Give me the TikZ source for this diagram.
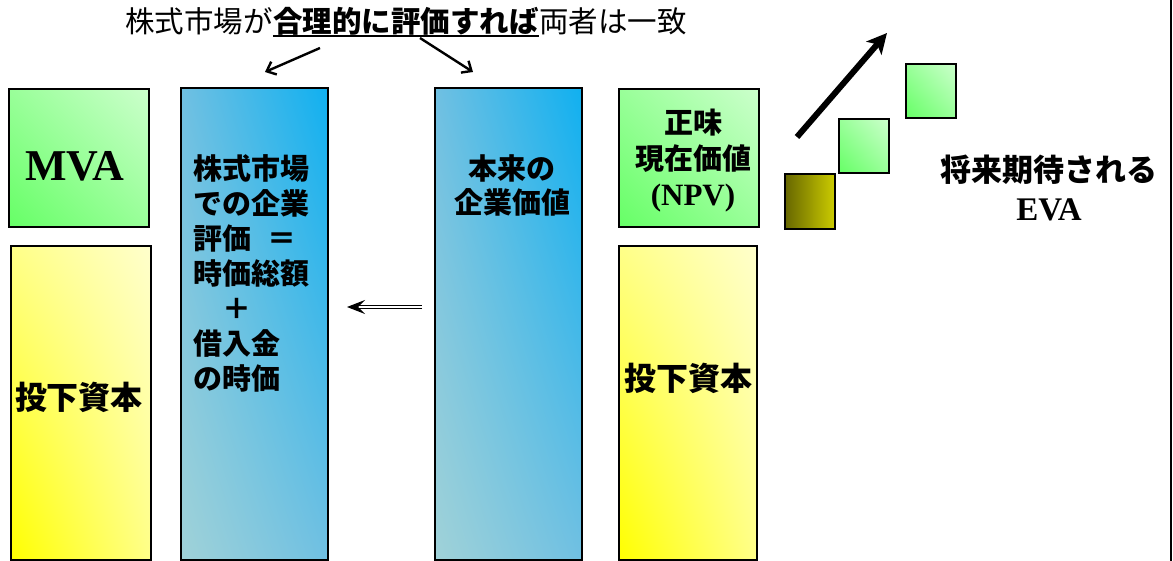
\documentclass[tikz,border=0pt]{standalone}
\usepackage{fontspec}
\newfontfamily\jp{Noto Sans CJK JP}
\newfontfamily\tnr{Liberation Serif}
\usetikzlibrary{arrows.meta,shadings}
\definecolor{gdark}{HTML}{66FF66}
\definecolor{glight}{HTML}{CCFFCC}
\definecolor{gmid}{HTML}{99FF99}
\definecolor{ydark}{HTML}{FFFF00}
\definecolor{ylight}{HTML}{FFFFCC}
\definecolor{ymid}{HTML}{FFFF88}
\definecolor{bll}{HTML}{A0D2D8}
\definecolor{bur}{HTML}{10B0F0}
\definecolor{bmid}{HTML}{70C0E2}
\definecolor{olive1}{HTML}{666600}
\definecolor{olive2}{HTML}{CCCC00}
\tikzset{
  frame/.style={draw=black, line width=1.6pt, inner sep=0pt, anchor=north west},
  gbox/.style={frame, lower left=gdark, upper right=glight, upper left=gmid, lower right=gmid},
  ybox/.style={frame, lower left=ydark, upper right=ylight, upper left=ymid, lower right=ymid},
  bbox/.style={frame, lower left=bll, upper right=bur, upper left=bmid, lower right=bmid},
  obox/.style={frame, left color=olive1, right color=olive2},
  jtxt/.style={inner sep=0pt, font=\jp\bfseries\fontsize{29}{35}\selectfont},
  thin arrow/.style={line width=2.4pt, -{Straight Barb[length=8pt,width=14pt,line width=2.4pt]}},
}
\begin{document}
\begin{tikzpicture}[x=1pt,y=-1pt]
\useasboundingbox (0,0) rectangle (1173,561);

% boxes
\node[gbox, minimum width=140pt, minimum height=138pt] (mva) at (8,88) {};
\node[ybox, minimum width=140pt, minimum height=314pt] (ic1) at (10,245) {};
\node[bbox, minimum width=147pt, minimum height=472pt] (mkt) at (180,87) {};
\node[bbox, minimum width=147pt, minimum height=472pt] (intr) at (434,87) {};
\node[gbox, minimum width=140pt, minimum height=138pt] (npv) at (618,88) {};
\node[ybox, minimum width=138pt, minimum height=314pt] (ic2) at (618,245) {};

% small squares
\node[obox, minimum width=50pt, minimum height=55pt] (sq1) at (784,173) {};
\node[gbox, minimum width=50pt, minimum height=54pt] (sq2) at (838,118) {};
\node[gbox, minimum width=50pt, minimum height=54pt] (sq3) at (905,63) {};

% texts
\node[inner sep=0pt, font=\tnr\bfseries\fontsize{44}{48}\selectfont] (mvat) at (75,166) {MVA};
\node[jtxt, font=\jp\bfseries\fontsize{32}{36}\selectfont] (ic1t) at (79,397) {投下資本};
\node[jtxt, font=\jp\bfseries\fontsize{32}{36}\selectfont] (ic2t) at (688,378) {投下資本};
\node[jtxt, align=left, anchor=north west] (mktt) at (193,154)
  {株式市場\\での企業\\評価\hspace{16pt}＝\\時価総額\\　＋\\借入金\\の時価};
\node[jtxt, align=center, anchor=north, font=\jp\bfseries\fontsize{29}{34}\selectfont] (intrt) at (512,154)
  {本来の\\企業価値};
\node[jtxt, align=center, anchor=north, font=\jp\bfseries\fontsize{29}{36}\selectfont] (npvt) at (693,109)
  {正味\\現在価値\\{\tnr\bfseries\fontsize{31}{36}\selectfont (NPV)}};
\node[jtxt, font=\jp\bfseries\fontsize{31}{36}\selectfont] (evat1) at (1049,170) {将来期待される};
\node[inner sep=0pt, font=\tnr\bfseries\fontsize{33}{36}\selectfont] (evat2) at (1049,210) {EVA};

% top title
\node[anchor=base west, inner sep=0pt, font=\jp\fontsize{29.5}{35}\selectfont] (t1) at (125,33) {株式市場が};
\node[anchor=base west, inner sep=0pt, font=\jp\bfseries\fontsize{29.5}{35}\selectfont] (t2) at (t1.base east) {合理的に評価すれば};
\node[anchor=base west, inner sep=0pt, font=\jp\fontsize{29.5}{35}\selectfont] (t3) at (t2.base east) {両者は一致};
\draw[line width=2pt] ([yshift=-3pt]t2.base west) -- ([yshift=-3pt]t2.base east);

% arrows from title
\coordinate (la) at (320,48);
\coordinate (lb) at (265,72);
\coordinate (ra) at (420,38);
\coordinate (rb) at (473,72);
\draw[thin arrow] (la) -- (lb);
\draw[thin arrow] (ra) -- (rb);

% double arrow
\coordinate (da) at (422,307);
\coordinate (db) at (347,307);
\draw[double, double distance=2.5pt, line width=1.2pt, -{Stealth[length=18pt,width=14pt,inset=7pt]}] (da) -- (db);

% thick arrow
\coordinate (ea) at (797,137);
\coordinate (eb) at (887,33);
\draw[line width=6pt, -{Stealth[length=20pt,width=20pt,inset=5pt]}] (ea) -- (eb);

% right border line
\coordinate (rt) at (1171,0);
\coordinate (rbm) at (1171,561);
\draw[line width=2pt] (rt) -- (rbm);
\end{tikzpicture}
\end{document}
